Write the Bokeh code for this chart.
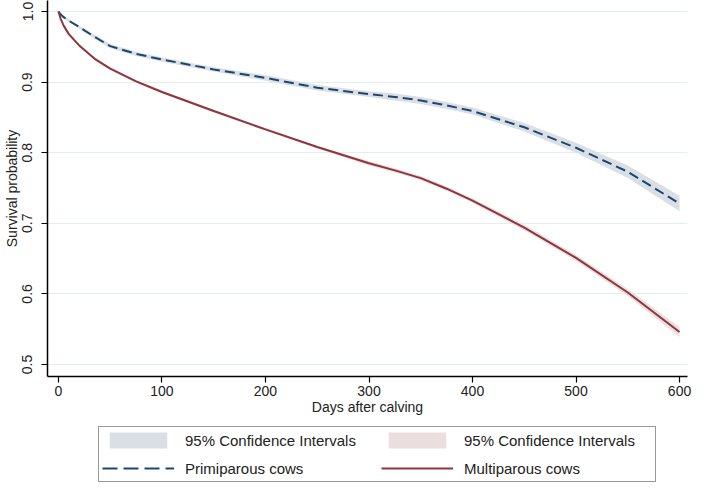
from bokeh.plotting import figure
from bokeh.layouts import column
from bokeh.models import (ColumnDataSource, Legend, LegendItem, FixedTicker,
                          NumeralTickFormatter, Range1d)
from bokeh.embed import file_html
from bokeh.resources import INLINE

# ---- data ----
days = [0, 2, 5, 10, 20, 35, 50, 75, 100, 150, 200, 250, 300, 325, 350, 375, 400, 450, 500, 550, 600]
prim = [1.0, 0.996, 0.992, 0.987, 0.978, 0.964, 0.951, 0.940, 0.932, 0.918, 0.906, 0.892,
        0.883, 0.879, 0.874, 0.867, 0.859, 0.836, 0.807, 0.773, 0.728]
prim_lo = [1.0, 0.995, 0.990, 0.985, 0.976, 0.961, 0.948, 0.937, 0.929, 0.915, 0.902, 0.888,
           0.879, 0.874, 0.869, 0.862, 0.854, 0.830, 0.800, 0.764, 0.717]
prim_hi = [1.0, 0.997, 0.994, 0.989, 0.980, 0.967, 0.954, 0.943, 0.935, 0.921, 0.910, 0.896,
           0.887, 0.884, 0.879, 0.872, 0.864, 0.842, 0.814, 0.782, 0.739]
multi = [1.0, 0.990, 0.980, 0.968, 0.952, 0.933, 0.919, 0.901, 0.886, 0.859, 0.833, 0.808,
         0.785, 0.775, 0.764, 0.749, 0.732, 0.694, 0.651, 0.602, 0.546]
multi_lo = [1.0, 0.989, 0.978, 0.966, 0.950, 0.931, 0.917, 0.899, 0.884, 0.857, 0.831, 0.806,
            0.782, 0.772, 0.761, 0.746, 0.729, 0.690, 0.647, 0.597, 0.539]
multi_hi = [1.0, 0.991, 0.982, 0.970, 0.954, 0.935, 0.921, 0.903, 0.888, 0.861, 0.835, 0.810,
            0.788, 0.778, 0.767, 0.752, 0.735, 0.698, 0.655, 0.607, 0.553]
x_ticks = [0, 100, 200, 300, 400, 500, 600]
y_ticks = [0.5, 0.6, 0.7, 0.8, 0.9, 1.0]
legend_labels = ["95% Confidence Intervals", "Primiparous cows",
                 "95% Confidence Intervals", "Multiparous cows"]

BLUE = "#1a476f"
RED = "#90353b"
BLUE_BAND = "#dadfe6"
RED_BAND = "#ebdedf"
FONT = "Liberation Sans"

src = ColumnDataSource(dict(d=days, p=prim, plo=prim_lo, phi=prim_hi,
                            m=multi, mlo=multi_lo, mhi=multi_hi))

p = figure(width=693, height=426, output_backend="svg", toolbar_location=None,
           x_range=Range1d(-10.6, 607.7), y_range=Range1d(0.483, 1.0156),
           min_border_left=46, min_border_right=6, min_border_top=0, min_border_bottom=50)
p.outline_line_color = None
p.background_fill_color = "white"
p.border_fill_color = "white"

p.varea(x="d", y1="plo", y2="phi", source=src, fill_color=BLUE_BAND)
p.varea(x="d", y1="mlo", y2="mhi", source=src, fill_color=RED_BAND)
p.line(x="d", y="p", source=src, line_color=BLUE, line_width=2, line_dash="10 5")
p.line(x="d", y="m", source=src, line_color=RED, line_width=2)

# grid
p.xgrid.grid_line_color = None
p.ygrid.grid_line_color = "#e4eef0"
p.ygrid.grid_line_width = 1

# axes
for ax in (p.xaxis[0], p.yaxis[0]):
    ax.axis_line_color = "black"
    ax.axis_line_width = 1.5
    ax.major_tick_line_color = "black"
    ax.major_tick_line_width = 1.2
    ax.major_tick_in = 0
    ax.major_tick_out = 6
    ax.minor_tick_line_color = None
    ax.major_label_text_font = FONT
    ax.major_label_text_font_size = "14px"
    ax.major_label_text_color = "#222222"
    ax.axis_label_text_font = FONT
    ax.axis_label_text_font_size = "14px"
    ax.axis_label_text_font_style = "normal"
    ax.axis_label_text_color = "#222222"

p.xaxis.ticker = FixedTicker(ticks=x_ticks)
p.yaxis.ticker = FixedTicker(ticks=y_ticks)
p.yaxis.formatter = NumeralTickFormatter(format="0.0")
p.xaxis.axis_label = "Days after calving"
p.yaxis.axis_label = "Survival probability"
p.xaxis.major_label_standoff = 3
p.xaxis.axis_label_standoff = 0
p.yaxis.major_label_orientation = "vertical"
p.yaxis.major_label_standoff = 9
p.yaxis.axis_label_standoff = 0

# ---- legend strip below the plot ----
lg = figure(width=693, height=58, output_backend="svg", toolbar_location=None,
            x_range=Range1d(0, 1), y_range=Range1d(0, 1),
            x_axis_type=None, y_axis_type=None,
            min_border_left=0, min_border_right=0, min_border_top=0, min_border_bottom=0)
lg.outline_line_color = None
lg.xgrid.grid_line_color = None
lg.ygrid.grid_line_color = None
# glyph swatches only (their data lie outside the strip's visible range)
dummy = ColumnDataSource(dict(x=[5, 6], y1=[5, 6], y2=[7, 8]))
gb = lg.varea(x="x", y1="y1", y2="y2", source=dummy, fill_color=BLUE_BAND)
gr = lg.varea(x="x", y1="y1", y2="y2", source=dummy, fill_color=RED_BAND)
gbl = lg.line(x="x", y="y1", source=dummy, line_color=BLUE, line_width=2, line_dash="15 6")
grl = lg.line(x="x", y="y1", source=dummy, line_color=RED, line_width=2)

legend = Legend(items=[
    LegendItem(label=legend_labels[0], renderers=[gb]),
    LegendItem(label=legend_labels[1], renderers=[gbl]),
    LegendItem(label=legend_labels[2], renderers=[gr]),
    LegendItem(label=legend_labels[3], renderers=[grl]),
], orientation="vertical", nrows=2, location=(51, 2))
legend.border_line_color = "#333333"
legend.border_line_width = 1
legend.padding = 3
legend.spacing = 8
legend.margin = 0
legend.glyph_width = 72
legend.glyph_height = 20
legend.label_height = 20
legend.label_width = 188
legend.label_standoff = 11
legend.label_text_font = FONT
legend.label_text_font_size = "15px"
legend.label_text_color = "#222222"
legend.background_fill_color = "white"
legend.background_fill_alpha = 1
lg.add_layout(legend, "center")

open("out.html", "w").write(file_html(column(p, lg), INLINE))
